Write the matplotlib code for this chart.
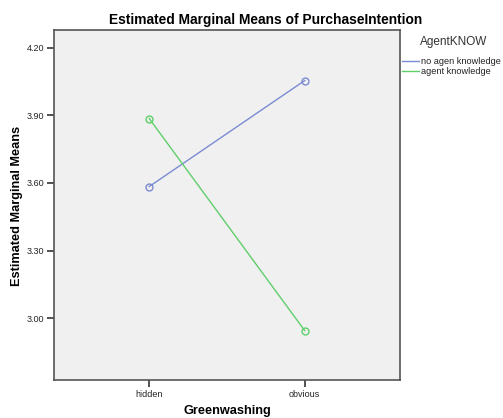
import matplotlib.pyplot as plt
import numpy as np

# estimated marginal means of PurchaseIntention
groups = ['hidden', 'obvious']
no_knowledge = [3.584, 4.054]
knowledge = [3.885, 2.945]
series_names = ['no agen knowledge', 'agent knowledge']
yticks = [3.00, 3.30, 3.60, 3.90, 4.20]

plt.rcParams['font.family'] = ['Liberation Sans', 'DejaVu Sans']

fig = plt.figure(figsize=(5.03, 4.18), dpi=100)
W, H = 503, 418
ax = fig.add_axes([54 / W, 1 - 380 / H, (400 - 54) / W, (380 - 30) / H])
ax.set_facecolor('#f0f0f0')

x = np.arange(len(groups))
blue = '#7b8bd3'
green = '#5fcf6b'
l1, = ax.plot(x, no_knowledge, color=blue, lw=1.0, marker='o', ms=5,
              mfc='none', mec=blue, mew=1.0)
l2, = ax.plot(x, knowledge, color=green, lw=1.0, marker='o', ms=5,
              mfc='none', mec=green, mew=1.0)

ax.set_xlim(-0.613, 1.613)
ax.set_ylim(2.726, 4.278)
ax.set_xticks(x)
ax.set_xticklabels(groups)
ax.set_yticks(yticks)
ax.set_yticklabels(['%.2f' % v for v in yticks])
ax.tick_params(axis='both', direction='out', length=5, width=1.2,
               color='#333333', labelsize=6.5, labelcolor='#222222', pad=2)

for s in ax.spines.values():
    s.set_color('#555555')
    s.set_linewidth(1.2)

fig.text(266 / W, 1 - 20 / H, 'Estimated Marginal Means of PurchaseIntention',
         ha='center', va='center', fontsize=9.9, fontweight='bold')
fig.text(227 / W, 1 - 411 / H, 'Greenwashing', ha='center', va='center',
         fontsize=9.2, fontweight='bold')
fig.text(17 / W, 1 - 206 / H, 'Estimated Marginal Means', ha='center',
         va='center', rotation=90, fontsize=9.2, fontweight='bold')

# legend drawn at the right of the plot
fig.text(420 / W, 1 - 42 / H, 'AgentKNOW', ha='left', va='center',
         fontsize=8.5, color='#333333')
for i, (name, col) in enumerate(zip(series_names, [blue, green])):
    yy = 1 - (61 + 10 * i) / H
    fig.add_artist(plt.Line2D([402 / W, 419 / W], [yy, yy], color=col, lw=1.0))
    fig.text(421 / W, yy, name, ha='left', va='center', fontsize=6.6,
             color='#222222')

fig.savefig('out.png', dpi=100)
